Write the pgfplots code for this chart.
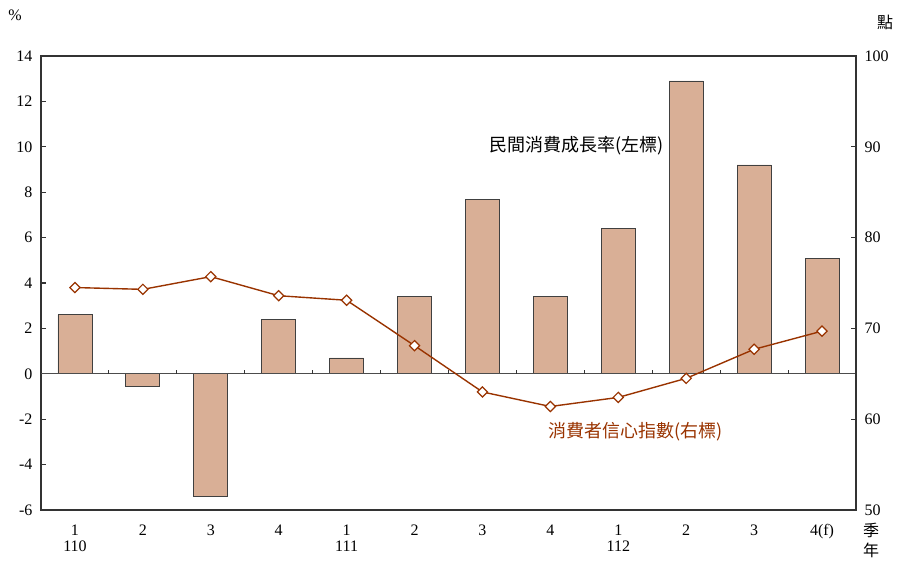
\documentclass[border=0pt]{standalone}
\usepackage{pgfplots}
\pgfplotsset{compat=1.18}
\usepackage{fontspec}
\setmainfont{Liberation Serif}
\newfontfamily\cjk{Noto Sans CJK TC}
\definecolor{barcol}{HTML}{D9AF96}
\definecolor{linecol}{HTML}{993300}
\begin{document}
\begin{tikzpicture}
\pgfplotsset{every axis/.append style={scale only axis, width=815bp, height=454bp, xmin=-0.5, xmax=11.5,
  /pgf/number format/assume math mode=true,
  tick label style={font=\fontsize{16bp}{16bp}\selectfont},
  axis line style={line width=1.3pt, black!80},
  tick style={line width=1.1pt, black!80},
  major tick length=5bp, tick align=inside}}
\begin{axis}[name=ax, ymin=-6, ymax=14, ytick={-6,-4,...,14}, ytick pos=left,
  xtick={0,...,11}, xticklabels={{1\\110},2,3,4,{1\\111},2,3,4,{1\\112},2,3,{4(f)}},
  xticklabel style={align=center, anchor=north, yshift=-11bp}, x tick style={draw=none},
  yticklabel style={xshift=-5bp}]
\addplot[ybar, bar width=0.5, fill=barcol, draw=black!75, line width=0.8pt]
  coordinates {(0,2.6) (1,-0.55) (2,-5.4) (3,2.4) (4,0.7) (5,3.4) (6,7.7) (7,3.4) (8,6.4) (9,12.9) (10,9.2) (11,5.1)};
\draw[black!70, line width=0.9pt] (axis cs:-0.5,0) -- (axis cs:11.5,0);
\pgfplotsinvokeforeach{0.5,1.5,2.5,3.5,4.5,5.5,6.5,7.5,8.5,9.5,10.5}{\draw[black!80, line width=1.1pt] (axis cs:#1,0) -- ([yshift=4bp]axis cs:#1,0);}
\node[font=\cjk\fontsize{18bp}{18bp}\selectfont] at (axis cs:7.39,10.03) {民間消費成長率(左標)};
\node[font=\cjk\fontsize{18bp}{18bp}\selectfont, text=linecol] at (axis cs:8.26,-2.56) {消費者信心指數(右標)};
\end{axis}
\begin{axis}[ymin=50, ymax=100, ytick={50,60,...,100}, axis y line*=right, axis x line=none,
  yticklabel style={xshift=5bp}]
\addplot[linecol, line width=1.4pt, mark=square*, mark size=3.6bp, mark options={rotate=45, fill=white, draw=linecol, line width=1.2pt}]
  coordinates {(0,74.5) (1,74.3) (2,75.7) (3,73.6) (4,73.1) (5,68.1) (6,63.0) (7,61.4) (8,62.4) (9,64.5) (10,67.7) (11,69.7)};
\end{axis}
\node[font=\fontsize{16bp}{16bp}\selectfont] at ([xshift=-26bp,yshift=41bp]ax.north west) {\%};
\node[font=\cjk\fontsize{16bp}{16bp}\selectfont] at ([xshift=29bp,yshift=34bp]ax.north east) {點};
\node[font=\cjk\fontsize{16bp}{16bp}\selectfont] at ([xshift=15bp,yshift=-20bp]ax.south east) {季};
\node[font=\cjk\fontsize{16bp}{16bp}\selectfont] at ([xshift=15bp,yshift=-40bp]ax.south east) {年};
\pgfresetboundingbox
\path[use as bounding box] ([xshift=-41bp,yshift=-51bp]ax.south west) rectangle ([xshift=42bp,yshift=56bp]ax.north east);
\end{tikzpicture}
\end{document}
